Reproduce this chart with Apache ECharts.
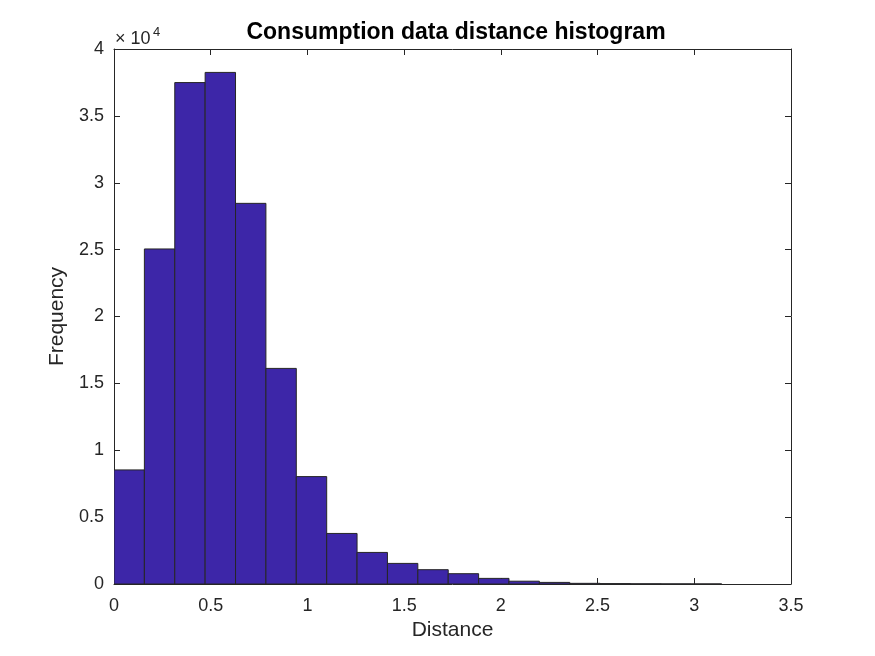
<!DOCTYPE html>
<html>
<head>
<meta charset="utf-8">
<script src="https://cdn.jsdelivr.net/npm/echarts@6/dist/echarts.min.js"></script>
<style>html,body{margin:0;padding:0;background:#fff}#c{width:875px;height:656px}</style>
</head>
<body>
<div id="c"></div>
<script>
// Histogram bin edges (distance) and counts (frequency)
const binEdges = [0, 0.1571, 0.3142, 0.4712, 0.6283, 0.7854, 0.9425, 1.0996, 1.2566, 1.4137, 1.5708,
  1.7279, 1.885, 2.042, 2.1991, 2.3562, 2.5133, 2.6704, 2.8274, 2.9845, 3.1416];
const counts = [8530, 25050, 37490, 38250, 28460, 16120, 8030, 3780, 2360, 1540, 1070,
  770, 420, 210, 120, 50, 30, 15, 8, 4];
const xTicks = [0, 0.5, 1, 1.5, 2, 2.5, 3, 3.5];
const yTickLabels = ['0', '0.5', '1', '1.5', '2', '2.5', '3', '3.5', '4'];

const FONT = 'Liberation Sans, Arial, Helvetica, sans-serif';
const INK = '#262626';

const data = counts.map((c, i) => [binEdges[i], binEdges[i + 1], c]);

const chart = echarts.init(document.getElementById('c'), null, {renderer: 'canvas'});
const axisCommon = {
  axisLine: {show: true, onZero: false, lineStyle: {color: INK, width: 1}},
  axisTick: {show: true, inside: true, length: 6, lineStyle: {color: INK}},
  splitLine: {show: false}
};
chart.setOption({
  animation: false,
  backgroundColor: '#fff',
  title: {
    text: 'Consumption data distance histogram',
    left: 456, top: 21, textAlign: 'center', padding: 0,
    textStyle: {fontFamily: FONT, fontSize: 23, fontWeight: 'bold', color: '#000'}
  },
  grid: {left: 114, right: 84, top: 49, bottom: 72},
  xAxis: [
    Object.assign({
      type: 'value', min: 0, max: 3.5, interval: 0.5,
      name: 'Distance', nameLocation: 'middle', nameGap: 36,
      nameTextStyle: {fontFamily: FONT, fontSize: 21, color: INK},
      axisLabel: {fontFamily: FONT, fontSize: 18, color: INK, margin: 13,
        formatter: v => { const i = xTicks.indexOf(+v.toFixed(2)); return i >= 0 ? String(xTicks[i]) : ''; }}
    }, axisCommon),
    Object.assign({
      type: 'value', position: 'top', min: 0, max: 3.5, interval: 0.5,
      axisLabel: {show: false}
    }, axisCommon)
  ],
  yAxis: [
    Object.assign({
      type: 'value', min: 0, max: 40000, interval: 5000,
      name: 'Frequency', nameLocation: 'middle', nameGap: 46, nameRotate: 90,
      nameTextStyle: {fontFamily: FONT, fontSize: 21, color: INK},
      axisLabel: {fontFamily: FONT, fontSize: 18, color: INK, margin: 10,
        formatter: v => yTickLabels[Math.round(v / 5000)] || ''}
    }, axisCommon),
    Object.assign({
      type: 'value', position: 'right', min: 0, max: 40000, interval: 5000,
      axisLabel: {show: false}
    }, axisCommon)
  ],
  graphic: [
    {type: 'text', left: 115, top: 30,
     style: {text: '× 10', fontFamily: FONT, fontSize: 18, fill: INK}},
    {type: 'text', left: 153, top: 26,
     style: {text: '4', fontFamily: FONT, fontSize: 13, fill: INK}}
  ],
  series: [{
    type: 'custom',
    xAxisIndex: 0, yAxisIndex: 0,
    clip: true,
    data: data,
    encode: {x: [0, 1], y: 2},
    renderItem: function (params, api) {
      const p0 = api.coord([api.value(0), 0]);
      const p1 = api.coord([api.value(1), api.value(2)]);
      return {
        type: 'rect',
        shape: {x: p0[0], y: p1[1], width: p1[0] - p0[0], height: p0[1] - p1[1]},
        style: {fill: '#3d26a8', stroke: '#262626', lineWidth: 1}
      };
    }
  }]
});
</script>
</body>
</html>
